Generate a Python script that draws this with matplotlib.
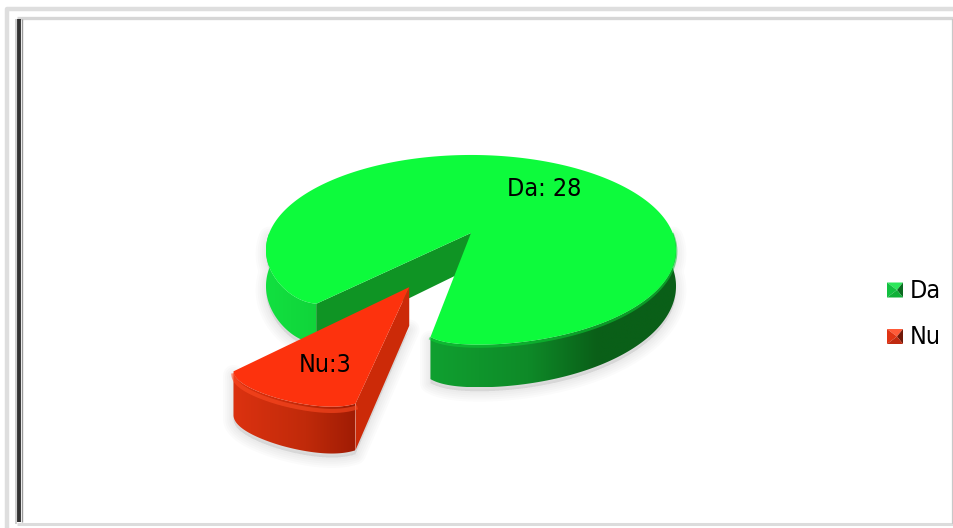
import numpy as np
import matplotlib
matplotlib.use("Agg")
import matplotlib.pyplot as plt
from matplotlib.patches import Polygon
from matplotlib.colors import LinearSegmentedColormap

# ---- data ----
labels = ["Da", "Nu"]
values = [28, 3]
slice_labels = ["Da: 28", "Nu:3"]

# ---- styles ----
TOP = {"Da": "#0dfb3c", "Nu": "#fd320d"}
WALL = {"Da": "#0f9424", "Nu": "#cc2a08"}
GREEN_FRONT = [(0.0, "#10a030"), (0.40, "#0e8a28"), (0.68, "#0a5f18"), (1.0, "#0a5f18")]
GREEN_LEFT = [(0.0, "#12e040"), (1.0, "#10d43a")]
RED_FRONT = [(0.0, "#dc3210"), (0.6, "#c02a0a"), (1.0, "#a01c04")]
FONT = dict(family="DejaVu Sans", stretch="condensed", fontsize=18, color="black", zorder=10, va="center")

CX, CY, A, B, K, DEPTH = 471.0, 233.0, 201.7, 92.0, 0.179, 35.0
NU_MID = 117.5
EXPLODE = 0.60

fig = plt.figure(figsize=(9.54, 5.28), dpi=100, facecolor="white")
ax = fig.add_axes([0, 0, 1, 1])
ax.set_xlim(0, 954)
ax.set_ylim(528, 0)
ax.axis("off")


def proj(u, v, z=0.0):
    den = 1 - K * v
    return np.column_stack([CX + A * u / den, CY + (B * v + z * DEPTH) / den])


def rim(t0, t1, cuts, radii=(1.0, 1.0), off=(0.0, 0.0), z=0.0, n=200):
    """Outer edge between two angles; the corners at `cuts` are slightly rounded."""
    deg = np.linspace(t0, t1, n)
    d = np.min([np.abs(deg - c) for c in cuts], axis=0)
    r = np.interp(deg, [nu_a0, nu_a1], radii) * (1 - 0.045 * np.exp(-d / 4.0))
    t = np.radians(deg)
    return proj(off[0] + r * np.cos(t), off[1] + r * np.sin(t), z)


def gradient_fill(pts, stops, zorder):
    poly = Polygon(pts, closed=True, facecolor="none", edgecolor="none", zorder=zorder)
    ax.add_patch(poly)
    cmap = LinearSegmentedColormap.from_list("g", stops)
    x0, x1 = pts[:, 0].min(), pts[:, 0].max()
    y0, y1 = pts[:, 1].min(), pts[:, 1].max()
    im = ax.imshow(np.linspace(0, 1, 256)[None, :], cmap=cmap, aspect="auto",
                   extent=[x0, x1, y1, y0], zorder=zorder, interpolation="bilinear")
    im.set_clip_path(poly)
    ax.set_xlim(0, 954)
    ax.set_ylim(528, 0)


def shadow(pts, zorder):
    for lw in (15, 12, 9, 6, 3):
        ax.add_patch(Polygon(pts + np.array([0, 4]), closed=True, facecolor="#000000",
                             edgecolor="#000000", linewidth=lw, alpha=0.014,
                             joinstyle="round", zorder=zorder))


# angles from the values
total = sum(values)
nu_span = 360.0 * values[1] / total
nu_a0, nu_a1 = NU_MID - nu_span / 2, NU_MID + nu_span / 2   # front corner, left corner
da_a0, da_a1 = nu_a1, nu_a0 + 360.0
G_CUTS = (nu_a0, nu_a1, nu_a0 + 360.0)
R_CUTS = (nu_a0, nu_a1)
R_RADII = (0.915, 0.965)
off = (EXPLODE * np.cos(np.radians(NU_MID)), EXPLODE * np.sin(np.radians(NU_MID)))
origin = np.array([0.0])
apex_g = proj(origin, origin)
apex_gb = proj(origin, origin, 1.0)
apex_r = proj(np.array([off[0]]), np.array([off[1]]))
apex_rb = proj(np.array([off[0]]), np.array([off[1]]), 1.0)

# ---- green slice ----
g_top = np.vstack([apex_g, rim(da_a0, da_a1, G_CUTS, n=500)])
g_front = np.vstack([rim(0, nu_a0, G_CUTS), rim(0, nu_a0, G_CUTS, z=1.0)[::-1]])
g_left = np.vstack([rim(nu_a1, 180, G_CUTS), rim(nu_a1, 180, G_CUTS, z=1.0)[::-1]])
shadow(g_front, 1)
shadow(g_left, 1)
gradient_fill(g_front, GREEN_FRONT, 2)
gradient_fill(g_left, GREEN_LEFT, 2)
g_wall = np.vstack([apex_g, rim(nu_a1, nu_a1, G_CUTS, n=1), rim(nu_a1, nu_a1, G_CUTS, z=1.0, n=1), apex_gb])
ax.add_patch(Polygon(g_wall, closed=True, facecolor=WALL["Da"], edgecolor="none", zorder=3))
ax.plot(*rim(0, nu_a0, G_CUTS, z=0.04).T, color="#0ccf34", lw=2.0, alpha=0.55, zorder=3.5)
ax.add_patch(Polygon(g_top, closed=True, facecolor=TOP["Da"], edgecolor="none", zorder=4))

# ---- red slice ----
r_rim = rim(nu_a0, nu_a1, R_CUTS, R_RADII, off)
r_rim_b = rim(nu_a0, nu_a1, R_CUTS, R_RADII, off, z=1.0)
r_top = np.vstack([apex_r, r_rim])
r_front = np.vstack([r_rim, r_rim_b[::-1]])
r_wall = np.vstack([apex_r, r_rim[:1], r_rim_b[:1], apex_rb])
shadow(np.vstack([r_front, apex_rb]), 5)
gradient_fill(r_front, RED_FRONT, 6)
ax.add_patch(Polygon(r_wall, closed=True, facecolor=WALL["Nu"], edgecolor="none", zorder=6))
ax.plot(*rim(nu_a0, nu_a1, R_CUTS, R_RADII, off, z=0.09).T, color="#ff4a22", lw=3.0, alpha=0.6, zorder=6.5)
ax.add_patch(Polygon(r_top, closed=True, facecolor=TOP["Nu"], edgecolor="none", zorder=7))

# ---- slice labels ----
ax.text(544, 188.5, slice_labels[0], ha="center", **FONT)
ax.text(325, 364.5, slice_labels[1], ha="center", **FONT)

# ---- legend ----
LEG = {"Da": ("#2ce85a", "#12c040", "#0a6a20", "#10b038"),
       "Nu": ("#ff5a38", "#e03414", "#701808", "#c02a10")}
for name, yc in zip(labels, (290, 336.5)):
    x0, x1, y0, y1 = 887, 903, yc - 7.5, yc + 7.5
    mx, my = 897, yc
    top, left, right, bottom = LEG[name]
    ax.add_patch(Polygon([(x0, y0), (x1, y0), (mx, my)], facecolor=top, edgecolor="none", zorder=8))
    ax.add_patch(Polygon([(x0, y0), (x0, y1), (mx, my)], facecolor=left, edgecolor="none", zorder=8))
    ax.add_patch(Polygon([(x1, y0), (x1, y1), (mx, my)], facecolor=right, edgecolor="none", zorder=8))
    ax.add_patch(Polygon([(x0, y1), (x1, y1), (mx, my)], facecolor=bottom, edgecolor="none", zorder=8))
    ax.text(910, yc + 1, name, ha="left", **FONT)

# ---- frame ----
ax.plot([7.5, 7.5, 954], [528, 9, 9], color="#dedede", lw=3.2, solid_capstyle="butt", zorder=0.5)
ax.plot([17, 954], [17.5, 17.5], color="#d6d6d6", lw=2.4, solid_capstyle="butt", zorder=0.5)
ax.plot([19.5, 19.5], [19, 522], color="#333333", lw=2.8, solid_capstyle="butt", zorder=0.6)
ax.plot([21.8, 21.8], [19, 522], color="#9a9a9a", lw=1.0, solid_capstyle="butt", zorder=0.6)
ax.plot([16.5, 16.5], [19, 524], color="#cfcfcf", lw=1.4, solid_capstyle="butt", zorder=0.5)
ax.plot([17, 954], [523.5, 523.5], color="#dcdcdc", lw=2.2, solid_capstyle="butt", zorder=0.5)
ax.plot([953, 953], [19, 524], color="#c8c8c8", lw=1.6, solid_capstyle="butt", zorder=0.5)

fig.savefig("out.png", dpi=100, facecolor="white")
